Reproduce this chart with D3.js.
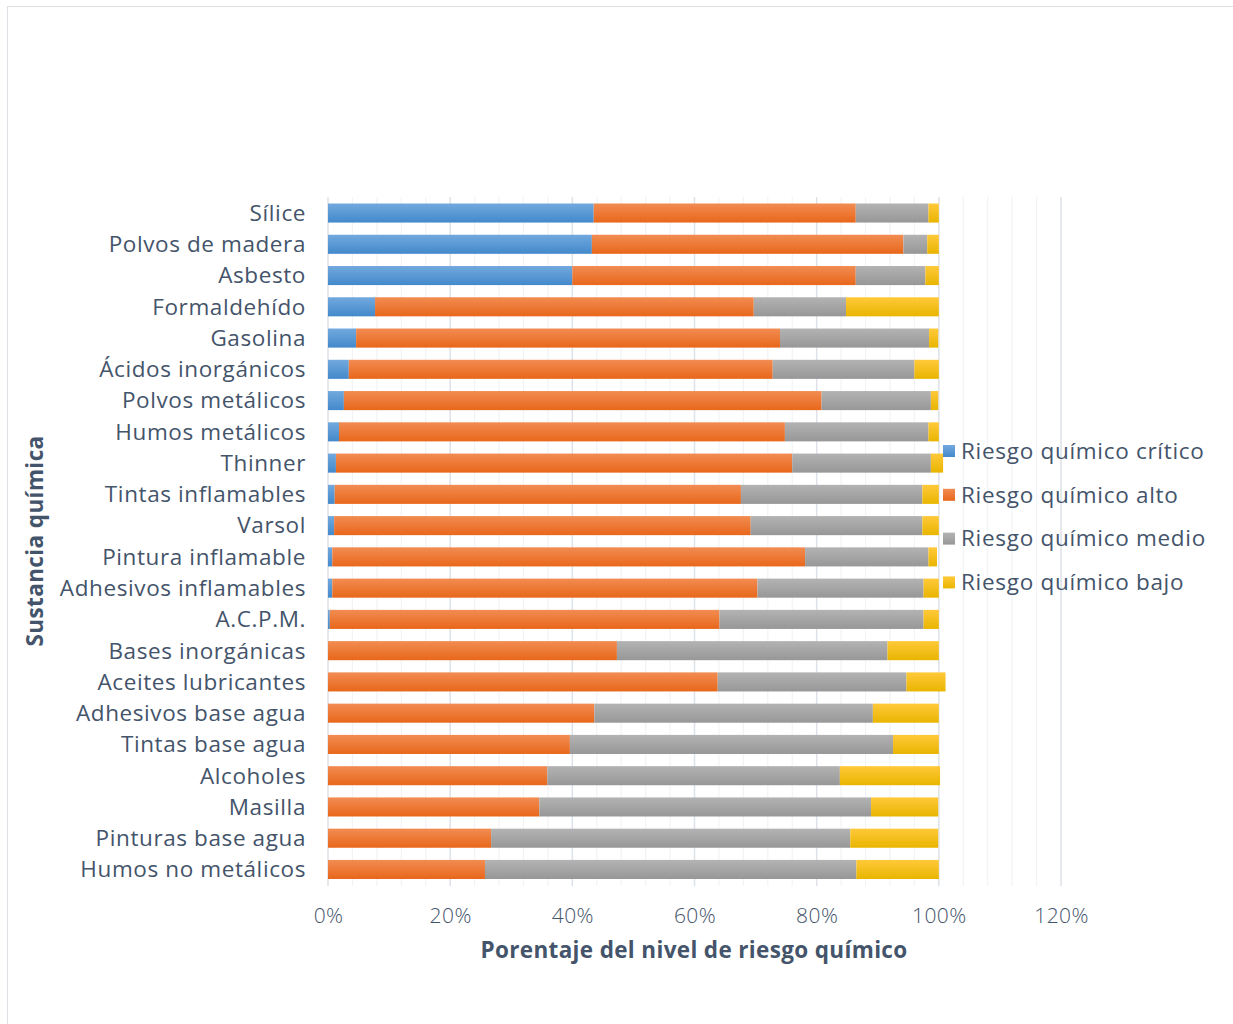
<!DOCTYPE html>
<html>
<head>
<meta charset="utf-8">
<script src="https://cdn.jsdelivr.net/npm/d3@7"></script>
<style>
  body { margin: 0; background: #fff; }
  svg text { font-family: "Open Sans", Lato, sans-serif; fill: #44546a; }
</style>
</head>
<body>
<span></span>
<script>
let width = 1233;
let height = 1024;

// datos (porcentaje por nivel)
let sustancias = ["Sílice", "Polvos de madera", "Asbesto", "Formaldehído", "Gasolina",
  "Ácidos inorgánicos", "Polvos metálicos", "Humos metálicos", "Thinner ", "Tintas inflamables",
  "Varsol", "Pintura inflamable", "Adhesivos inflamables", "A.C.P.M.", "Bases inorgánicas",
  "Aceites lubricantes", "Adhesivos base agua", "Tintas base agua", "Alcoholes ", "Masilla",
  "Pinturas base agua", "Humos no metálicos"];
let critico = [43.5, 43.2, 40.0, 7.7, 4.6, 3.4, 2.6, 1.8, 1.3, 1.1, 1.0, 0.7, 0.7, 0.3, 0, 0, 0, 0, 0, 0, 0, 0];
let alto = [42.9, 51.0, 46.4, 62.0, 69.4, 69.4, 78.2, 73.0, 74.7, 66.5, 68.2, 77.4, 69.6, 63.8, 47.3, 63.8, 43.6, 39.6, 35.9, 34.6, 26.7, 25.7];
let medio = [11.9, 3.9, 11.4, 15.1, 24.4, 23.2, 17.9, 23.5, 22.7, 29.7, 28.1, 20.2, 27.2, 33.4, 44.3, 30.9, 45.6, 52.9, 47.9, 54.3, 58.8, 60.8];
let bajo = [1.7, 1.9, 2.2, 15.2, 1.5, 4.0, 1.2, 1.7, 2.0, 2.7, 2.7, 1.4, 2.5, 2.5, 8.4, 6.4, 10.8, 7.5, 16.4, 11.0, 14.4, 13.5];
let series = ["Riesgo químico crítico", "Riesgo químico alto", "Riesgo químico medio", "Riesgo químico bajo"];
let xTicks = [0, 20, 40, 60, 80, 100, 120];

let colores = [["#72a9de", "#4389cb"], ["#f28c52", "#e8671b"], ["#b3b3b3", "#979797"], ["#ffc93a", "#e9b500"]];

let svg = d3.select("span")
    .append("svg")
    .attr("width", width)
    .attr("height", height);

// marco exterior
svg.append("rect")
    .attr("x", 7.5).attr("y", 6.5)
    .attr("width", 1240).attr("height", 1040)
    .attr("fill", "none").attr("stroke", "#dcdfe4");

let defs = svg.append("defs");
colores.forEach(function (c, i) {
    let g = defs.append("linearGradient")
        .attr("id", "grad" + i)
        .attr("x1", 0).attr("y1", 0).attr("x2", 0).attr("y2", 1);
    g.append("stop").attr("offset", "0%").attr("stop-color", c[0]);
    g.append("stop").attr("offset", "100%").attr("stop-color", c[1]);
});

let x = d3.scaleLinear().domain([0, 120]).range([328, 1061]);
let y = d3.scaleBand().domain(sustancias).range([197.4, 885.1]).paddingInner(0.39).paddingOuter(0.195);

// lineas de cuadricula (menores cada 4%, mayores cada 20%)
let minor = d3.range(0, 121, 4);
svg.append("g").selectAll("line")
    .data(minor)
    .join("line")
    .attr("x1", d => x(d)).attr("x2", d => x(d))
    .attr("y1", 197).attr("y2", 886)
    .attr("stroke", d => d % 20 === 0 ? "#dde2e9" : "#f1f3f6")
    .attr("stroke-width", d => d % 20 === 0 ? 1.5 : 1.2);

// apilado
let rows = sustancias.map(function (s, i) {
    return { nombre: s, v: [critico[i], alto[i], medio[i], bajo[i]] };
});

let barras = svg.append("g");
rows.forEach(function (r) {
    let acum = 0;
    r.v.forEach(function (val, k) {
        if (val > 0) {
            barras.append("rect")
                .attr("x", x(acum))
                .attr("y", y(r.nombre))
                .attr("width", x(acum + val) - x(acum))
                .attr("height", y.bandwidth())
                .attr("fill", "url(#grad" + k + ")");
        }
        acum += val;
    });
});

// etiquetas de categorias
let yAxis = d3.axisLeft(y).tickSize(0).tickPadding(22);
let gy = svg.append("g").attr("transform", "translate(328,0)").call(yAxis);
gy.select(".domain").remove();
gy.selectAll("text")
    .style("font-family", "'Open Sans', sans-serif")
    .style("font-size", "22.5px")
    .style("letter-spacing", "0.6px")
    .style("fill", "#44546a")
    .attr("dy", "0.35em");

// eje x
let xAxis = d3.axisBottom(x).tickValues(xTicks).tickSize(0).tickPadding(20).tickFormat(d => d + "%");
let gx = svg.append("g").attr("transform", "translate(0,888)").call(xAxis);
gx.select(".domain").remove();
gx.selectAll("text")
    .style("font-family", "'Open Sans', sans-serif")
    .style("font-size", "21px")
    .style("letter-spacing", "0.4px")
    .style("fill", "#44546a")
    .style("font-weight", 300);

// titulos de ejes
svg.append("text")
    .attr("x", 694).attr("y", 958)
    .attr("text-anchor", "middle")
    .style("font-size", "22.5px")
    .style("letter-spacing", "0.35px")
    .style("font-weight", "bold")
    .text("Porentaje del nivel de riesgo químico");

svg.append("text")
    .attr("transform", "translate(43,541) rotate(-90)")
    .attr("text-anchor", "middle")
    .style("font-size", "22.5px")
    .style("letter-spacing", "0.4px")
    .style("font-weight", "bold")
    .text("Sustancia química");

// leyenda
let leg = svg.append("g").selectAll("g")
    .data(series)
    .join("g")
    .attr("transform", (d, i) => "translate(943," + (451 + i * 43.8) + ")");
leg.append("rect")
    .attr("x", 0).attr("y", -6)
    .attr("width", 12).attr("height", 12)
    .attr("fill", (d, i) => "url(#grad" + i + ")");
leg.append("text")
    .attr("x", 18).attr("dy", "0.35em")
    .style("font-size", "22.5px")
    .style("letter-spacing", "0.7px")
    .text(d => d);
</script>
</body>
</html>
